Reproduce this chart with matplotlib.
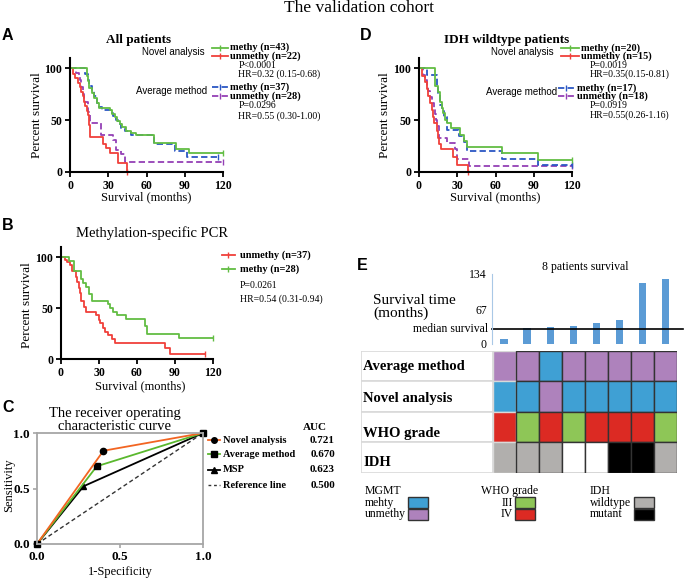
import matplotlib
matplotlib.use('Agg')
import matplotlib.pyplot as plt
import numpy as np
from matplotlib.patches import Rectangle

SERIF = 'Liberation Serif'
SANS = 'Liberation Sans'

# ---------------- data ----------------
# A: all patients, step times (months) and percent survival
a_nov_m_t = [0, 13, 14, 15, 17, 19, 21, 23, 31, 33, 35, 37, 39, 41, 44, 48, 52, 66, 83, 93]
a_nov_m_s = [100, 93, 88, 81, 76, 71, 67, 62, 60, 56, 53, 49, 46, 43, 40, 38, 36, 28, 22, 18]
a_nov_u_t = [0, 2, 4, 6, 8, 9, 10, 11, 12, 13, 14, 15, 16, 26, 28, 31, 38, 45]
a_nov_u_s = [100, 95, 91, 86, 82, 77, 73, 68, 64, 59, 55, 45, 34, 27, 23, 18, 9, 0]
a_avg_m_t = [0, 12, 14, 15, 17, 19, 21, 23, 25, 32, 34, 36, 38, 40, 43, 48, 66, 82, 92]
a_avg_m_s = [100, 95, 89, 83, 78, 73, 67, 63, 60, 57, 54, 50, 46, 42, 40, 36, 27, 20, 14]
a_avg_u_t = [0, 5, 7, 8, 9, 10, 11, 12, 14, 16, 24, 34, 36, 40, 43]
a_avg_u_s = [100, 96, 93, 89, 82, 75, 71, 68, 58, 47, 36, 31, 21, 17, 10]

# D: IDH wildtype patients
d_nov_m_t = [0, 12.5, 15, 16.4, 17.7, 19, 20.3, 22, 25, 32, 35, 37.5, 65, 93]
d_nov_m_s = [100, 83, 77, 68, 62, 57, 50, 47, 42, 36, 30, 24, 18, 12]
d_nov_u_t = [0, 2, 4.7, 6, 7.3, 8.6, 9.9, 10.7, 12, 13.8, 15, 16, 17, 27, 29.5, 38.6]
d_nov_u_s = [100, 93, 87, 80, 73, 67, 60, 53, 47, 40, 33, 27, 22, 14, 7, 0]
d_avg_m_t = [0, 6, 14, 15, 16.5, 18, 19.5, 22, 31, 35, 38, 65, 93]
d_avg_m_s = [100, 94, 82, 76, 65, 59, 53, 41, 35, 29, 20, 13, 7]
d_avg_u_t = [0, 3, 5, 6, 7, 8.6, 10, 11.5, 12.5, 13.3, 14, 16, 22, 28, 30, 39]
d_avg_u_s = [100, 94, 89, 83, 78, 72, 67, 61, 56, 50, 44, 33, 28, 22, 13, 6]

# B: methylation-specific PCR
b_u_t = [0, 3, 5, 7, 9, 12, 13, 14, 15, 16, 18, 20, 28, 30, 31, 33, 35, 37, 40, 43, 82, 86]
b_u_s = [100, 97, 95, 92, 86, 81, 76, 70, 65, 57, 51, 46, 43, 38, 35, 30, 27, 24, 20, 16, 11, 5]
b_m_t = [0, 6, 10, 16, 17.5, 19.5, 22, 24.5, 37, 39, 41, 44, 51, 66.5, 67.5, 93]
b_m_s = [100, 96, 86, 79, 75, 71, 64, 57, 54, 50, 46, 43, 39, 32, 25, 21]

# C: ROC (1-specificity, sensitivity)
roc_novel = ([0, 0.40, 1], [0, 0.84, 1])
roc_avg = ([0, 0.36, 1], [0, 0.70, 1])
roc_msp = ([0, 0.28, 1], [0, 0.52, 1])
roc_names = ['Novel analysis', 'Average method', 'MSP', 'Reference line']
roc_auc = ['0.721', '0.670', '0.623', '0.500']

# E: 8 patients
surv_months = [10, 30, 32, 35, 40, 46, 117, 124]
median_surv = 29
row_names = ['Average method', 'Novel analysis', 'WHO grade', 'IDH']
mgmt_avg = ['u', 'u', 'm', 'u', 'u', 'u', 'u', 'u']
mgmt_novel = ['m', 'm', 'u', 'm', 'm', 'm', 'm', 'm']
who_grade = ['IV', 'III', 'IV', 'III', 'IV', 'IV', 'IV', 'III']
idh = ['wt', 'wt', 'wt', 'na', 'na', 'mut', 'mut', 'wt']

# ---------------- colours ----------------
GREEN = '#62bd43'
RED = '#f0403a'
BLUE = '#2b57c4'
PURPLE = '#9440b5'
cell_col = {'m': '#3fa0d4', 'u': '#ae82bc', 'III': '#8ec657', 'IV': '#dc2a23',
            'wt': '#b1afad', 'mut': '#000000', 'na': '#ffffff'}

W, H = 685, 581
fig = plt.figure(figsize=(W / 100, H / 100), dpi=100)


def ax_at(l, t, r, b):
    return fig.add_axes([l / W, 1 - b / H, (r - l) / W, (b - t) / H])


def bold_ticks(ax, size):
    for lab in ax.get_xticklabels() + ax.get_yticklabels():
        lab.set_fontfamily(SERIF)
        lab.set_fontweight('bold')
        lab.set_fontsize(size)


def km_axes(ax):
    ax.set_xlim(0, 120)
    ax.set_ylim(0, 110)
    ax.set_xticks([0, 30, 60, 90, 120])
    ax.set_yticks([0, 50, 100])
    for sp in ['top', 'right']:
        ax.spines[sp].set_visible(False)
    for sp in ['left', 'bottom']:
        ax.spines[sp].set_linewidth(1.5)
    ax.tick_params(width=1.3, length=3.5, pad=2)
    bold_ticks(ax, 8.5)
    ax.patch.set_alpha(0)


def km(ax, t, s, t_end, color, ls='-'):
    tt = list(t) + [t_end]
    ss = list(s) + [s[-1]]
    ax.step(tt, ss, where='post', color=color, ls=ls, lw=1.3, clip_on=False)
    ax.plot([t_end], [ss[-1]], marker='|', color=color, ms=4, mew=1, clip_on=False)


DASH = (0, (3.5, 1.8))

# ---- A ----
ax_a = ax_at(70, 58, 223, 172)
km(ax_a, a_avg_u_t, a_avg_u_s, 120, PURPLE, DASH)
km(ax_a, a_avg_m_t, a_avg_m_s, 116, BLUE, DASH)
km(ax_a, a_nov_u_t, a_nov_u_s, 45, RED)
km(ax_a, a_nov_m_t, a_nov_m_s, 120, GREEN)
km_axes(ax_a)

# ---- D ----
ax_d = ax_at(419, 58, 572, 172)
km(ax_d, d_avg_u_t, d_avg_u_s, 120, PURPLE, DASH)
km(ax_d, d_avg_m_t, d_avg_m_s, 120, BLUE, DASH)
km(ax_d, d_nov_u_t, d_nov_u_s, 38.6, RED)
km(ax_d, d_nov_m_t, d_nov_m_s, 120, GREEN)
km_axes(ax_d)

# ---- B ----
ax_b = ax_at(61, 247, 213, 359)
km(ax_b, b_u_t, b_u_s, 114, RED)
km(ax_b, b_m_t, b_m_s, 120, GREEN)
km_axes(ax_b)

# ---- C ----
ax_c = ax_at(37, 433, 203, 544)
ax_c.plot([0, 1], [0, 1], ls=(0, (3, 2)), color='#333333', lw=1)
ax_c.plot(*roc_msp, color='black', lw=1.3, marker='^', ms=4.5, markevery=[1])
ax_c.plot(*roc_avg, color='#5ab82e', lw=1.3, marker='s', ms=4.5, mfc='black', mec='black', markevery=[1])
ax_c.plot(*roc_novel, color='#f26522', lw=1.3, marker='o', ms=4.5, mfc='black', mec='black', markevery=[1])
ax_c.plot([roc_novel[0][0], roc_novel[0][-1]], [roc_novel[1][0], roc_novel[1][-1]], ls='none',
          marker='s', ms=4.5, color='black', clip_on=False)
ax_c.set_xlim(0, 1)
ax_c.set_ylim(0, 1)
ax_c.set_xticks([0, 0.5, 1])
ax_c.set_yticks([0, 0.5, 1])
ax_c.set_xticklabels(['0.0', '0.5', '1.0'])
ax_c.set_yticklabels(['0.0', '0.5', '1.0'])
for sp in ax_c.spines.values():
    sp.set_color('#a6a6a6')
    sp.set_linewidth(1.3)
ax_c.tick_params(length=3, color='#a6a6a6', width=1.2, pad=2)
bold_ticks(ax_c, 9.5)

# ---- E bars ----
ax_e = ax_at(492.5, 274, 677.3, 344)
ax_e.bar(range(len(surv_months)), surv_months, width=0.32, color='#5b9bd5')
ax_e.axhline(median_surv, xmin=0, xmax=1.03, color='black', lw=1.2, clip_on=False)
ax_e.set_xlim(-0.5, 7.5)
ax_e.set_ylim(0, 134)
ax_e.set_xticks([])
ax_e.set_yticks([0, 67, 134])
for sp in ['top', 'right', 'bottom']:
    ax_e.spines[sp].set_visible(False)
ax_e.spines['left'].set_color('#a9c8e6')
ax_e.tick_params(length=0, pad=4)
for lab in ax_e.get_yticklabels():
    lab.set_fontfamily(SERIF)
    lab.set_fontsize(8.5)
ax_e.set_title('8 patients survival', fontfamily=SERIF, fontsize=8.5, pad=3)

# ---- E table ----
ax_t = ax_at(361, 351, 677.3, 472.6)
ax_t.set_xlim(-5.7, 8)
ax_t.set_ylim(4, 0)
ax_t.axis('off')
label_dy = [0.5, 0.55, 0.72, 0.68]
for i, row in enumerate([mgmt_avg, mgmt_novel, who_grade, idh]):
    ax_t.add_patch(Rectangle((-5.7, i), 5.7, 1, fc='white', ec='#d9d9d9', lw=1.2))
    ax_t.text(-5.6, i + label_dy[i], row_names[i], fontfamily=SERIF, fontweight='bold',
              fontsize=10.5, va='center', ha='left')
    for j, v in enumerate(row):
        ax_t.add_patch(Rectangle((j, i), 1, 1, fc=cell_col[v],
                                 ec='#d9d9d9' if j == 0 else '#333333', lw=1))

# ---------------- overlay for texts / legends ----------------
ov = fig.add_axes([0, 0, 1, 1])
ov.set_xlim(0, W)
ov.set_ylim(H, 0)
ov.axis('off')


def t(x, y, s, size=7.5, weight='normal', family=SERIF, ha='left', **kw):
    ov.text(x, y, s, fontsize=size, fontweight=weight, fontfamily=family, ha=ha, va='center', **kw)


def leg(x0, x1, y, color, ls='-', marker='|', ms=4, mfc=None):
    ov.plot([x0, x1], [y, y], color=color, ls=ls, lw=1.3)
    ov.plot([(x0 + x1) / 2], [y], marker=marker, color=color if mfc is None else mfc, ms=ms)


t(359, 8, 'The validation cohort', size=12.5, ha='center')

# panel letters
for x, y, s in [(2, 36, 'A'), (360, 35, 'D'), (2, 226, 'B'), (2, 407, 'C'), (357, 265, 'E')]:
    t(x, y, s, size=11.5, weight='bold', family=SANS)

# A texts
t(138.5, 40, 'All patients', size=9.5, weight='bold', ha='center')
t(205, 51.7, 'Novel analysis', size=7, family=SANS, ha='right')
leg(212, 228, 47.5, GREEN)
t(230, 47.5, 'methy (n=43)', weight='bold')
leg(212, 228, 56, RED)
t(230, 56, 'unmethy (n=22)', weight='bold')
t(238.3, 65.7, 'P<0.0001', size=7)
t(238.3, 74.3, 'HR=0.32 (0.15-0.68)', size=7)
t(207, 91, 'Average method', size=7, family=SANS, ha='right')
leg(212, 228, 87.3, BLUE, DASH)
t(230, 87.3, 'methy (n=37)', weight='bold')
leg(212, 228, 95.7, PURPLE, DASH)
t(230, 95.7, 'unmethy (n=28)', weight='bold')
t(238.3, 106, 'P=0.0296', size=7)
t(238.3, 115.7, 'HR=0.55 (0.30-1.00)', size=7)
t(37.5, 115, 'Percent survival', size=9.5, ha='center', rotation=90)
t(146.5, 197, 'Survival (months)', size=9, ha='center')

# D texts
t(506.7, 40, 'IDH wildtype patients', size=9.5, weight='bold', ha='center')
t(553.3, 51.7, 'Novel analysis', size=7, family=SANS, ha='right')
leg(561, 579, 47.7, GREEN)
t(580.7, 47.7, 'methy (n=20)', weight='bold')
leg(561, 579, 56, RED)
t(580.7, 56, 'unmethy (n=15)', weight='bold')
t(590, 65.7, 'P=0.0019', size=7)
t(590, 74.3, 'HR=0.35(0.15-0.81)', size=7)
t(556.7, 91.7, 'Average method', size=7, family=SANS, ha='right')
leg(558, 575, 87.7, BLUE, DASH)
t(577.3, 87.7, 'methy (n=17)', weight='bold')
leg(558, 575, 96, PURPLE, DASH)
t(577.3, 96, 'unmethy (n=18)', weight='bold')
t(589.3, 105.7, 'P=0.0919', size=7)
t(589.3, 115, 'HR=0.55(0.26-1.16)', size=7)
t(385, 115, 'Percent survival', size=9.5, ha='center', rotation=90)
t(495.5, 197, 'Survival (months)', size=9, ha='center')

# B texts
t(151.7, 233, 'Methylation-specific PCR', size=10.5, ha='center')
leg(221.7, 235, 255.3, RED)
t(240, 255.3, 'unmethy (n=37)', weight='bold')
leg(221.7, 235, 269, GREEN)
t(240, 269, 'methy (n=28)', weight='bold')
t(240, 285.7, 'P=0.0261', size=7)
t(240, 298.7, 'HR=0.54 (0.31-0.94)', size=7)
t(27, 305, 'Percent survival', size=9.5, ha='center', rotation=90)
t(140, 386, 'Survival (months)', size=9, ha='center')

# C texts
t(115, 413, 'The receiver operating', size=10.5, ha='center')
t(115, 427, 'characteristic curve', size=10.5, ha='center')
t(315, 427, 'AUC', size=8, weight='bold', ha='center')
c_rows = [440.3, 454.3, 469.7, 485]
leg(208.3, 220, c_rows[0], '#f26522', marker='o', ms=4, mfc='black')
leg(208.3, 220, c_rows[1], '#5ab82e', marker='s', ms=4, mfc='black')
leg(208.3, 220, c_rows[2], 'black', marker='^', ms=4)
ov.plot([208.3, 220], [c_rows[3]] * 2, color='#333333', ls=(0, (2, 2)), lw=1)
for y, name, auc in zip(c_rows, roc_names, roc_auc):
    t(223.3, y, name, size=7.5, weight='bold')
    t(335, y, auc, size=8, weight='bold', ha='right')
t(9, 485, 'Sensitivity', size=9, ha='center', rotation=90)
t(120, 572, '1-Specificity', size=9, ha='center')

# E texts
t(373, 301, 'Survival time', size=11)
t(373, 313, '(months)', size=11)
t(488, 329, 'median survival', size=8.5, ha='right')

# E legend
t(365, 490.7, 'MGMT', size=8.5)
t(365, 502.7, 'mehty', size=8.5)
t(365, 514, 'unmethy', size=8.5)
t(480.7, 490.7, 'WHO grade', size=8.5)
t(512.7, 502.7, 'III', size=8.5, ha='right')
t(512.7, 514, 'IV', size=8.5, ha='right')
t(590, 490.7, 'IDH', size=8.5)
t(590, 502.7, 'wildtype', size=8.5)
t(590, 514, 'mutant', size=8.5)
for x0, keys in [(407.7, ['m', 'u']), (515, ['III', 'IV']), (634, ['wt', 'mut'])]:
    for k, y0 in zip(keys, [497, 508.5]):
        ov.add_patch(Rectangle((x0, y0), 20, 11, fc=cell_col[k], ec='#333333', lw=1))

fig.savefig('out.png', dpi=100)
